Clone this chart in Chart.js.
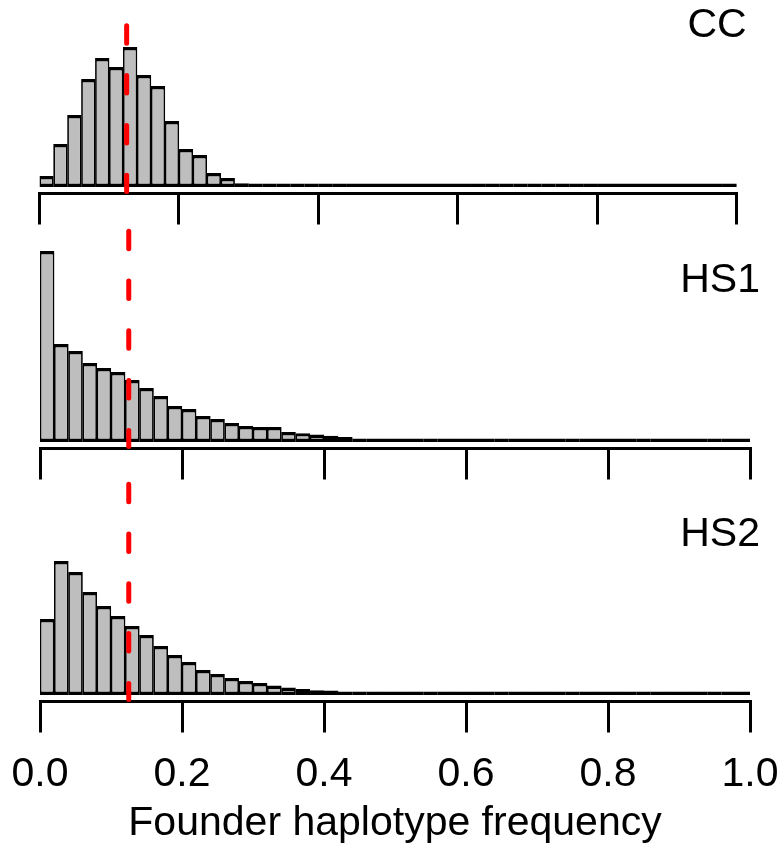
<!DOCTYPE html>
<html>
<head>
<meta charset="utf-8">
<title>Founder haplotype frequency</title>
<script src="https://cdn.jsdelivr.net/npm/chart.js@4"></script>
<style>
  body { margin: 0; background: #fff; }
  #wrap { position: relative; width: 783px; height: 850px; }
  #wrap canvas { position: absolute; left: 0; }
</style>
</head>
<body>
<div id="wrap">
  <canvas id="cc" width="783" height="226" style="top:0px"></canvas>
  <canvas id="hs1" width="783" height="254" style="top:226px"></canvas>
  <canvas id="hs2" width="783" height="370" style="top:480px"></canvas>
</div>
<script>
// histogram bins, width 0.02 (left edge)
const bins = ['0.00', '0.02', '0.04', '0.06', '0.08', '0.10', '0.12', '0.14', '0.16', '0.18',
  '0.20', '0.22', '0.24', '0.26', '0.28', '0.30', '0.32', '0.34', '0.36', '0.38',
  '0.40', '0.42', '0.44', '0.46', '0.48', '0.50', '0.52', '0.54', '0.56', '0.58',
  '0.60', '0.62', '0.64', '0.66', '0.68', '0.70', '0.72', '0.74', '0.76', '0.78',
  '0.80', '0.82', '0.84', '0.86', '0.88', '0.90', '0.92', '0.94', '0.96', '0.98'];
const tickLabels = ['0.0', '0.2', '0.4', '0.6', '0.8', '1.0'];

// % of founder haplotypes in each bin
const ccFreq = [1.1, 4.3, 7.2, 10.8, 12.9, 12.0, 14.0, 11.2, 10.1, 6.6,
  3.8, 3.2, 1.4, 0.9, 0.37, 0.23, 0.1, 0.05, 0.03, 0.02,
  0.01, 0.01, 0.01, 0.01, 0.01, 0.01, 0.01, 0.01, 0.01, 0.01,
  0.01, 0.01, 0.01, 0.01, 0.01, 0.01, 0.01, 0.01, 0.01, 0.01,
  0.01, 0.01, 0.01, 0.01, 0.01, 0.01, 0.01, 0.01, 0.01, 0.01];
const hs1Freq = [19.1, 9.8, 9.1, 7.9, 7.4, 7.0, 6.2, 5.4, 4.6, 3.6,
  3.3, 2.6, 2.3, 1.9, 1.6, 1.5, 1.5, 1.0, 0.88, 0.75,
  0.62, 0.5, 0.35, 0.3, 0.2, 0.15, 0.12, 0.1, 0.1, 0.09,
  0.08, 0.07, 0.06, 0.05, 0.05, 0.04, 0.04, 0.05, 0.03, 0.03,
  0.03, 0.02, 0.02, 0.02, 0.02, 0.02, 0.01, 0.01, 0.01, 0.01];
const hs2Freq = [7.6, 13.4, 12.3, 10.3, 8.9, 7.9, 6.9, 6.0, 4.9, 4.0,
  3.3, 2.5, 2.1, 1.7, 1.4, 1.2, 0.95, 0.75, 0.6, 0.48,
  0.45, 0.33, 0.25, 0.2, 0.15, 0.12, 0.1, 0.1, 0.09, 0.08,
  0.07, 0.06, 0.06, 0.05, 0.05, 0.04, 0.04, 0.03, 0.03, 0.03,
  0.02, 0.02, 0.02, 0.02, 0.02, 0.01, 0.01, 0.01, 0.01, 0.01];

// expected frequency with 8 founders
const expectedFreq = 0.125;

const FONT = '"Liberation Sans", Arial, Helvetica, sans-serif';
const PX_PER_PCT = 10;   // same vertical scale in the three panels
const Y_MIN = -0.65;     // gap between bar bottoms and the axis line
const PAD_TOP = 2;

// panel name at top right
const panelLabel = {
  id: 'panelLabel',
  afterDraw(chart, args, opts) {
    const ctx = chart.ctx;
    ctx.save();
    ctx.font = '41px ' + FONT;
    ctx.fillStyle = '#000';
    ctx.textAlign = 'right';
    ctx.textBaseline = 'alphabetic';
    ctx.fillText(opts.text, chart.chartArea.right + 10, opts.baseline);
    ctx.restore();
  }
};

// red dashed line at the expected frequency
const expectedLine = {
  id: 'expectedLine',
  afterDatasetsDraw(chart, args, opts) {
    const ctx = chart.ctx;
    const x = chart.scales.x2.getPixelForValue(expectedFreq);
    ctx.save();
    ctx.strokeStyle = '#ff0000';
    ctx.lineWidth = 5;
    ctx.lineCap = 'round';
    ctx.setLineDash([17.5, 32.3]);
    ctx.beginPath();
    ctx.moveTo(x, opts.top);
    ctx.lineTo(x, chart.chartArea.bottom - 2);
    ctx.stroke();
    ctx.restore();
  }
};

function drawPanel(id, name, values, p) {
  const canvas = document.getElementById(id);
  const yMax = Y_MIN + (p.axisY - PAD_TOP) / PX_PER_PCT;

  new Chart(canvas, {
    type: 'bar',
    data: {
      labels: bins,
      datasets: [{
        data: values,
        backgroundColor: '#bebebe',
        borderColor: '#000',
        borderWidth: { top: 3.4, bottom: 3.4, left: 1.75, right: 1.75 },
        borderSkipped: false,
        inflateAmount: 0,
        minBarLength: 3.4,
        categoryPercentage: 1,
        barPercentage: 1.03   // tiny overlap so neighbouring bars leave no seam
      }]
    },
    options: {
      responsive: false,
      animation: false,
      events: [],
      layout: { padding: { left: p.left, right: p.right, top: PAD_TOP, bottom: 0 } },
      scales: {
        x: { display: false },
        y: { display: false, min: Y_MIN, max: yMax },
        x2: {
          type: 'linear',
          position: 'bottom',
          min: 0,
          max: 1,
          offset: false,
          afterFit(scale) {
            scale.height = canvas.height - p.axisY;
            scale.paddingLeft = 0;
            scale.paddingRight = 0;
          },
          grid: { offset: false, drawOnChartArea: false, color: '#000', lineWidth: 3, tickLength: 31 },
          border: { color: '#000', width: 3 },
          ticks: {
            display: p.showTicks,
            stepSize: 0.2,
            autoSkip: false,
            maxRotation: 0,
            padding: 17.8,
            color: '#000',
            font: { family: FONT, size: 41 },
            callback: (v, i) => tickLabels[i]
          },
          title: {
            display: p.showTicks,
            text: 'Founder haplotype frequency',
            color: '#000',
            font: { family: FONT, size: 41 },
            padding: { top: 0, bottom: 1.3 }
          }
        }
      },
      plugins: {
        legend: { display: false },
        tooltip: { enabled: false },
        panelLabel: { text: name, baseline: p.nameY },
        expectedLine: { top: p.lineTop }
      }
    },
    plugins: [panelLabel, expectedLine]
  });
}

drawPanel('cc', 'CC', ccFreq, { left: 39.5, right: 46.3, axisY: 193.5, nameY: 36.7, lineTop: 25.8, showTicks: false });
drawPanel('hs1', 'HS1', hs1Freq, { left: 40, right: 33, axisY: 222.5, nameY: 65.7, lineTop: 5.2, showTicks: false });
drawPanel('hs2', 'HS2', hs2Freq, { left: 40, right: 33, axisY: 221.5, nameY: 66, lineTop: 4.2, showTicks: true });
</script>
</body>
</html>
